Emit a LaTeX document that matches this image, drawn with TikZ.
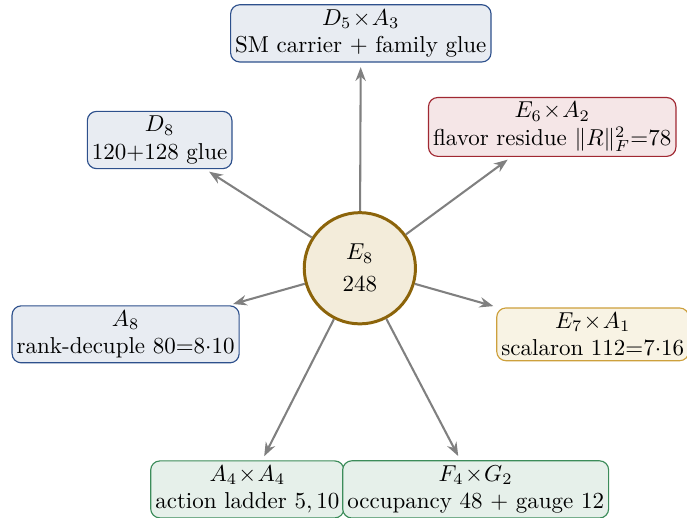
\documentclass[tikz,border=0pt]{standalone}
\usepackage{amsmath}
\usepackage{amssymb}
\usetikzlibrary{arrows.meta}

\definecolor{hubfill}{RGB}{243,236,218}
\definecolor{hubdraw}{RGB}{140,100,10}
\definecolor{bluefill}{RGB}{232,236,242}
\definecolor{bluedraw}{RGB}{45,80,140}
\definecolor{redfill}{RGB}{245,230,231}
\definecolor{reddraw}{RGB}{160,40,50}
\definecolor{goldfill}{RGB}{248,243,228}
\definecolor{golddraw}{RGB}{205,160,60}
\definecolor{greenfill}{RGB}{230,240,234}
\definecolor{greendraw}{RGB}{60,140,90}

\begin{document}
\begin{tikzpicture}
\tikzset{hub/.style = {shape=circle,draw=hubdraw,fill=hubfill,line width=1.3pt,minimum size=1.7cm,align=center}}
\tikzset{leaf/.style = {shape=rectangle,rounded corners=4pt,draw,align=center,inner sep=2pt,line width=0.5pt}}
\tikzset{bluebox/.style = {leaf,draw=bluedraw,fill=bluefill}}
\tikzset{redbox/.style = {leaf,draw=reddraw,fill=redfill}}
\tikzset{goldbox/.style = {leaf,draw=golddraw,fill=goldfill}}
\tikzset{greenbox/.style = {leaf,draw=greendraw,fill=greenfill}}
\tikzset{edge/.style = {-{Stealth[length=6pt,width=4.5pt]},draw=gray,line width=0.9pt,shorten >=2pt}}
\useasboundingbox (-5.50,-3.81) rectangle (5.0,4.10);
% vertices
\node[hub] (e8) at (0,0) {$E_8$\\[2pt]248};
\node[bluebox] (d5) at (0.015,3.59) {$D_5\!\times\! A_3$\\SM carrier $+$ family glue};
\node[bluebox] (d8) at (-3.06,1.96) {$D_8$\\120$+$128 glue};
\node[redbox] (e6) at (2.94,2.16) {$E_6\!\times\! A_2$\\flavor residue $\|R\|_F^2{=}78$};
\node[bluebox] (a8) at (-3.58,-1.01) {$A_8$\\rank-decuple $80{=}8{\cdot}10$};
\node[goldbox] (e7) at (3.56,-1.01) {$E_7\!\times\! A_1$\\scalaron $112{=}7{\cdot}16$};
\node[greenbox] (a4) at (-1.72,-3.38) {$A_4\!\times\! A_4$\\action ladder $5,10$};
\node[greenbox] (f4) at (1.77,-3.38) {$F_4\!\times\! G_2$\\occupancy $48$ $+$ gauge $12$};
%edges
\draw[edge] (e8) to (d5);
\draw[edge] (e8) to (d8);
\draw[edge] (e8) to (e6);
\draw[edge] (e8) to (a8);
\draw[edge] (e8) to (e7);
\draw[edge] (e8) to (a4);
\draw[edge] (e8) to (f4);
\end{tikzpicture}
\end{document}
